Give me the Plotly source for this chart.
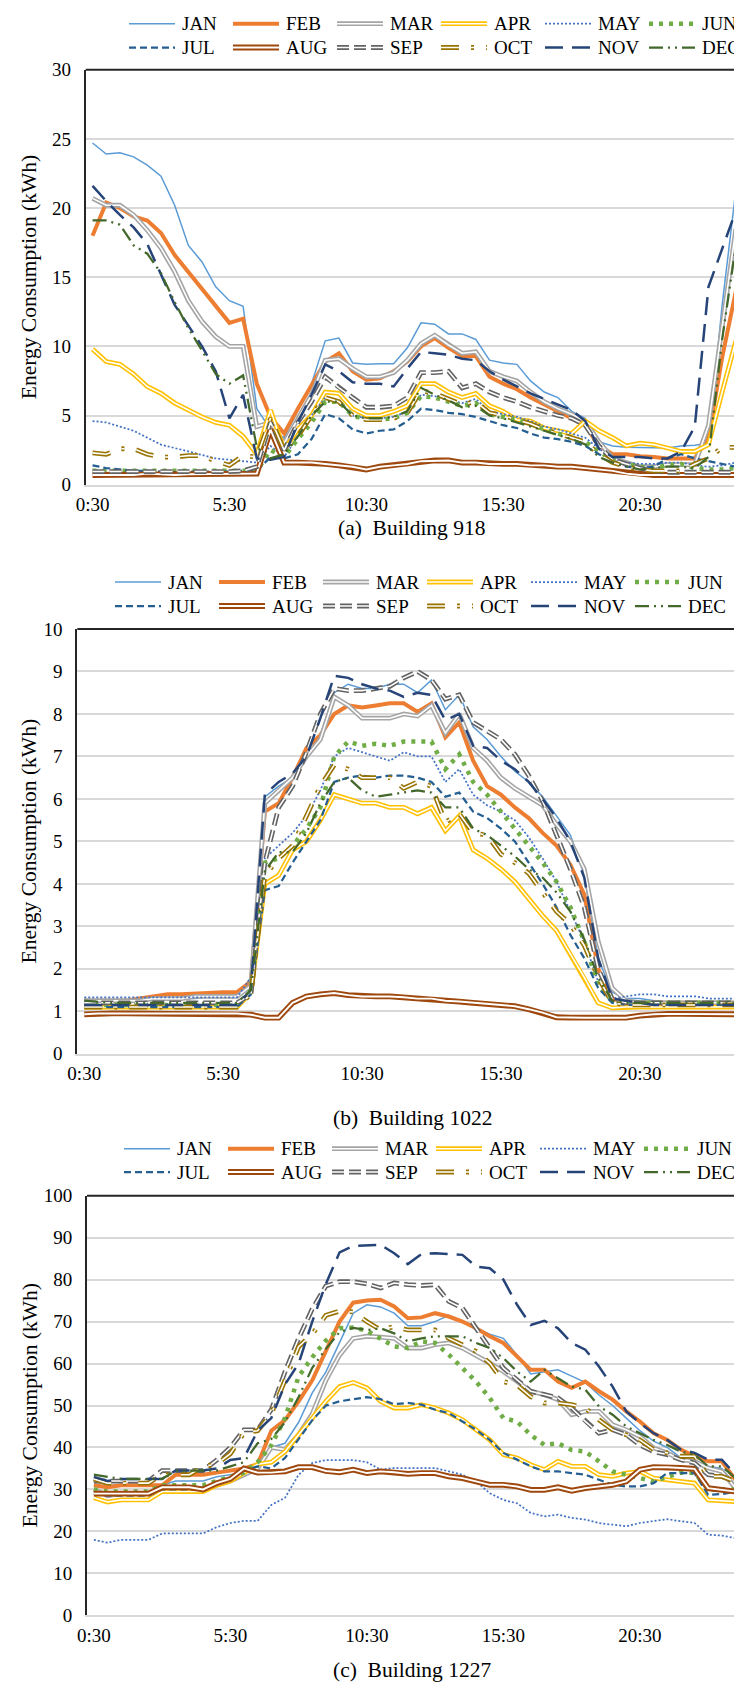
import plotly.graph_objects as go

# ---------------- categories / labels ----------------
TIMES = ["0:30", "1:00", "1:30", "2:00", "2:30", "3:00", "3:30", "4:00", "4:30", "5:00",
         "5:30", "6:00", "6:30", "7:00", "7:30", "8:00", "8:30", "9:00", "9:30", "10:00",
         "10:30", "11:00", "11:30", "12:00", "12:30", "13:00", "13:30", "14:00", "14:30", "15:00",
         "15:30", "16:00", "16:30", "17:00", "17:30", "18:00", "18:30", "19:00", "19:30", "20:00",
         "20:30", "21:00", "21:30", "22:00", "22:30", "23:00", "23:30", "24:00"]
TICK_LABELS = ["0:30", "5:30", "10:30", "15:30", "20:30"]
MONTHS = ["JAN", "FEB", "MAR", "APR", "MAY", "JUN", "JUL", "AUG", "SEP", "OCT", "NOV", "DEC"]
CAPTIONS = ["(a)  Building 918", "(b)  Building 1022", "(c)  Building 1227"]
Y_TITLE = "Energy Consumption (kWh)"

# ---------------- Building 918 ----------------
JAN_918 = [24.7,23.9,24.0,23.7,23.1,22.3,20.2,17.3,16.1,14.3,13.3,12.9,5.5,4.0,3.4,5.3,7.3,10.4,10.6,8.8,8.7,8.75,8.75,9.9,11.7,11.6,10.9,10.9,10.5,9.0,8.8,8.7,7.5,6.7,6.3,5.3,4.8,3.1,2.8,2.7,2.7,2.65,2.65,2.8,2.85,3.0,13.0,21.3]
FEB_918 = [18.0,20.4,20.0,19.4,19.1,18.2,16.6,15.4,14.2,13.0,11.7,12.0,7.3,4.9,3.7,5.5,7.2,8.9,9.5,8.2,7.6,7.7,8.2,8.9,10.0,10.6,9.9,9.3,9.3,7.8,7.3,6.9,6.3,5.8,5.3,4.8,4.3,2.8,2.2,2.2,2.05,2.0,1.9,1.9,1.9,3.4,9.2,14.0]
MAR_918 = [20.7,20.2,20.2,19.5,18.4,17.1,15.4,13.3,11.8,10.7,10.0,10.0,4.2,4.5,3.0,4.8,6.5,9.0,9.1,8.4,7.8,7.8,8.1,9.0,10.2,10.8,10.1,9.5,9.6,8.2,7.8,7.5,6.7,6.0,5.5,5.1,4.6,3.1,1.9,1.6,1.3,1.3,1.45,1.45,1.45,4.3,11.6,18.5]
APR_918 = [9.8,8.9,8.7,8.0,7.1,6.6,5.9,5.4,4.9,4.5,4.3,3.5,2.2,5.4,2.5,4.0,5.0,6.7,6.6,5.5,5.0,5.0,5.3,5.7,7.3,7.3,6.7,6.3,6.6,5.7,5.3,4.7,4.6,4.1,3.9,3.7,4.6,3.9,3.4,2.8,3.0,2.9,2.65,2.4,2.4,2.9,6.7,10.4]
MAY_918 = [4.6,4.5,4.2,3.9,3.4,2.9,2.65,2.4,2.2,1.9,1.8,1.7,1.6,2.8,2.0,3.5,5.0,6.3,6.1,5.0,4.8,4.8,4.9,5.3,6.5,6.4,6.1,5.9,6.2,5.3,5.1,4.9,4.6,4.2,4.0,3.7,3.4,2.6,1.9,1.6,1.5,1.5,1.6,1.6,1.4,1.3,1.4,1.6]
JUN_918 = [1.0,1.0,1.0,1.0,0.95,0.95,0.95,0.95,0.95,0.95,1.0,1.0,1.0,2.5,2.0,3.3,4.5,6.0,6.0,5.0,4.7,4.7,4.8,5.2,6.4,6.3,6.0,5.7,5.9,5.1,4.9,4.7,4.4,4.0,3.7,3.4,3.1,2.4,1.8,1.5,1.3,1.2,1.4,1.5,1.2,1.1,1.1,1.2]
JUL_918 = [1.4,1.2,1.1,1.0,1.0,0.95,0.9,0.95,0.95,0.9,0.95,1.0,1.0,2.0,1.9,2.2,3.3,5.1,4.8,4.0,3.7,3.9,4.0,4.6,5.5,5.4,5.2,5.1,4.9,4.6,4.3,4.1,3.7,3.4,3.3,3.1,2.8,2.2,1.7,1.3,1.2,1.3,1.9,2.2,1.9,1.7,1.5,1.3]
AUG_918 = [0.7,0.7,0.7,0.7,0.8,0.75,0.7,0.75,0.75,0.75,0.8,0.75,0.8,4.0,1.6,1.6,1.6,1.5,1.4,1.3,1.1,1.3,1.4,1.5,1.7,1.75,1.75,1.6,1.6,1.5,1.5,1.5,1.4,1.4,1.3,1.3,1.2,1.1,1.0,0.8,0.7,0.7,0.7,0.7,0.7,0.7,0.7,0.7]
SEP_918 = [0.95,0.95,0.9,0.9,0.9,0.9,0.9,0.95,0.95,0.95,0.95,1.0,1.3,4.5,2.5,4.5,6.0,7.8,7.0,6.3,5.6,5.6,5.7,6.3,8.1,8.1,8.2,7.0,7.3,6.7,6.3,6.0,5.6,5.3,5.0,4.8,4.3,2.8,1.8,1.5,1.2,1.0,0.9,0.9,0.9,0.9,0.9,0.9]
OCT_918 = [2.3,2.2,2.6,2.6,2.2,2.0,2.0,2.1,2.1,1.7,1.4,2.1,2.0,4.8,2.5,3.5,5.0,6.3,6.0,5.0,4.7,4.7,4.8,5.2,6.8,6.6,6.2,5.8,6.0,5.2,5.0,4.7,4.4,4.0,3.7,3.4,3.1,2.2,1.6,1.3,1.1,1.0,1.0,1.0,1.5,1.9,2.7,2.7]
NOV_918 = [21.6,20.5,19.5,18.6,17.4,15.2,13.0,11.5,10.0,8.2,4.8,6.5,1.9,1.8,2.0,4.5,6.5,8.7,8.2,7.4,7.3,7.3,7.1,8.4,9.6,9.5,9.4,9.1,9.0,8.2,7.6,7.1,6.6,6.2,5.8,5.4,4.6,2.6,2.0,2.0,2.0,1.9,1.9,2.4,4.2,14.3,17.0,19.8]
DEC_918 = [19.1,19.1,18.8,17.3,16.7,15.3,13.2,11.3,9.7,8.0,7.3,7.9,2.7,1.9,2.2,3.5,5.0,6.0,6.0,5.0,4.8,4.8,4.9,5.3,7.0,6.5,6.1,5.6,5.7,5.0,4.8,4.5,4.2,3.9,3.6,3.3,2.9,2.0,1.6,1.3,1.1,1.2,1.3,1.3,1.2,2.0,10.5,17.3]

# ---------------- Building 1022 ----------------
JAN_1022 = [1.25,1.25,1.25,1.25,1.25,1.3,1.3,1.3,1.3,1.35,1.35,1.35,1.8,6.05,6.3,6.5,7.0,7.5,8.5,8.7,8.6,8.6,8.7,8.7,8.5,8.8,8.1,8.45,7.7,7.4,7.0,6.65,6.4,6.05,5.6,5.15,4.2,2.25,1.45,1.3,1.3,1.25,1.2,1.2,1.2,1.2,1.2,1.2]
FEB_1022 = [1.25,1.25,1.25,1.25,1.3,1.35,1.4,1.4,1.42,1.43,1.45,1.45,1.7,5.7,5.9,6.5,7.2,7.5,8.0,8.2,8.15,8.2,8.25,8.25,8.05,8.25,7.45,7.8,6.9,6.3,6.1,5.8,5.55,5.2,4.9,4.45,3.75,2.0,1.3,1.2,1.2,1.2,1.2,1.2,1.2,1.2,1.2,1.2]
MAR_1022 = [1.25,1.25,1.25,1.25,1.25,1.3,1.3,1.3,1.35,1.35,1.35,1.35,1.6,5.9,6.2,6.5,7.0,7.4,8.4,8.2,7.9,7.9,7.9,8.0,7.95,8.2,7.55,8.0,7.2,6.9,6.5,6.25,6.05,5.85,5.4,5.0,4.35,2.65,1.55,1.25,1.2,1.2,1.2,1.2,1.2,1.2,1.2,1.2]
APR_1022 = [1.1,1.1,1.1,1.1,1.1,1.1,1.1,1.1,1.1,1.1,1.1,1.1,1.45,4.0,4.2,4.8,5.0,5.5,6.1,6.0,5.9,5.9,5.8,5.8,5.65,5.8,5.25,5.6,4.8,4.6,4.35,4.05,3.65,3.25,2.9,2.35,1.8,1.2,1.08,1.1,1.1,1.1,1.1,1.1,1.1,1.1,1.1,1.1]
MAY_1022 = [1.33,1.33,1.33,1.33,1.33,1.33,1.33,1.33,1.33,1.33,1.33,1.33,1.8,4.6,4.9,5.2,5.6,6.2,7.0,7.2,7.1,7.0,6.9,7.1,7.0,7.0,6.4,6.7,6.1,5.85,5.7,5.5,5.1,4.6,4.05,3.35,2.65,1.7,1.3,1.35,1.4,1.4,1.35,1.35,1.35,1.3,1.3,1.3]
JUN_1022 = [1.15,1.15,1.15,1.15,1.15,1.15,1.15,1.15,1.15,1.15,1.15,1.15,1.5,4.5,4.6,4.9,5.3,5.8,7.0,7.35,7.25,7.3,7.25,7.35,7.35,7.35,6.7,7.05,6.4,6.1,5.7,5.3,4.9,4.5,4.05,3.45,2.65,1.6,1.25,1.2,1.2,1.2,1.2,1.2,1.2,1.2,1.2,1.2]
JUL_1022 = [1.1,1.1,1.1,1.1,1.1,1.1,1.1,1.1,1.1,1.1,1.1,1.1,1.4,3.85,3.95,4.5,5.0,5.5,6.4,6.5,6.55,6.5,6.55,6.55,6.5,6.4,6.05,6.15,5.7,5.55,5.3,5.0,4.5,4.0,3.45,2.8,2.25,1.55,1.2,1.15,1.15,1.15,1.15,1.15,1.15,1.15,1.15,1.15]
AUG_1022 = [0.93,0.95,0.95,0.95,0.95,0.95,0.95,0.95,0.95,0.95,0.95,0.95,0.92,0.85,0.85,1.2,1.35,1.4,1.43,1.38,1.35,1.35,1.35,1.33,1.3,1.3,1.25,1.23,1.2,1.18,1.15,1.12,1.05,0.97,0.86,0.85,0.85,0.85,0.85,0.85,0.9,0.93,0.94,0.94,0.93,0.93,0.93,0.93]
SEP_1022 = [1.2,1.2,1.2,1.2,1.2,1.2,1.2,1.2,1.2,1.2,1.2,1.2,1.4,4.5,5.8,6.3,7.1,8.0,8.6,8.55,8.55,8.6,8.65,8.85,9.0,8.8,8.35,8.45,7.8,7.6,7.4,7.05,6.55,5.95,5.15,4.35,3.45,2.0,1.3,1.2,1.2,1.2,1.2,1.2,1.2,1.2,1.2,1.2]
OCT_1022 = [1.1,1.1,1.1,1.1,1.1,1.1,1.1,1.1,1.1,1.1,1.1,1.1,1.4,4.2,4.6,4.9,5.6,6.3,6.8,6.7,6.5,6.5,6.5,6.25,6.4,6.3,5.45,5.65,5.2,5.15,4.7,4.5,4.25,3.8,3.35,3.05,2.55,1.8,1.2,1.15,1.15,1.15,1.15,1.15,1.15,1.15,1.15,1.15]
NOV_1022 = [1.15,1.15,1.15,1.15,1.15,1.15,1.15,1.15,1.15,1.15,1.15,1.15,1.5,6.1,6.4,6.6,7.0,7.9,8.9,8.85,8.7,8.6,8.55,8.4,8.5,8.45,7.85,8.0,7.25,7.2,6.9,6.7,6.4,6.0,5.55,5.0,4.15,2.25,1.3,1.25,1.2,1.15,1.15,1.15,1.15,1.15,1.15,1.15]
DEC_1022 = [1.25,1.22,1.2,1.2,1.2,1.2,1.2,1.2,1.2,1.2,1.2,1.2,1.5,4.3,4.75,4.75,5.2,5.9,6.4,6.5,6.2,6.05,6.1,6.15,6.2,6.15,5.8,5.8,5.3,5.15,4.9,4.65,4.35,4.15,3.8,3.35,2.7,1.8,1.25,1.2,1.2,1.2,1.2,1.2,1.2,1.2,1.2,1.2]

# ---------------- Building 1227 ----------------
JAN_1227 = [32,31,31,31,31,31,32,32,32,33,33.5,34,36,40,41,46,53,58,65,72,74,73.5,72,69,69,70,71.5,70,68.5,67,66,62,57.5,58,58.5,57,55.5,52.5,50,47,44,41.5,40,37.5,36.5,35.5,35,31]
FEB_1227 = [31,30.5,31,31,31,31,33.5,33.5,33.5,34,34.5,35,36,44,46.5,51,56,63,70,74.5,75,75.2,73.6,70.8,71,72,71.2,70,68.4,66.5,64.9,61.7,58.5,58.5,55.7,54.2,55.7,53.4,51.4,48.6,46.2,43.4,41.8,39.5,37.9,36.7,36.7,32.3]
MAR_1227 = [30,28.5,29,29,29,29.5,30,30,30,31,32,33.5,35,40,39.5,43,48,56,62,66,66.5,66.3,66,63.7,63.7,64.5,64.9,63.7,62,60.1,58.1,55.7,53.4,52.6,51.4,47.8,48.6,48.6,45.4,44.2,42.6,39.9,38.7,37.1,36.7,35.1,34.3,30.3]
APR_1227 = [28,27,27.5,27.5,27.5,29.5,29.5,29.5,29.5,31,32,34,36,36.5,39,43,47,51,54.5,55.5,54.2,51,49.4,49.4,50.2,49.4,48.2,46.6,44.2,41.8,38.3,37.5,35.9,34.7,36.7,35.5,35.5,33.5,33.1,33.9,34.3,32.7,32.3,31.9,31.5,27.5,27.3,27.1]
MAY_1227 = [18,17.3,18,18,18,19.5,19.5,19.5,19.5,21,22,22.5,22.5,26.3,28,33.5,36.3,37,37,37,36.5,34.7,35.1,35.1,35.1,35.1,34.3,33.5,31.9,29.1,27.5,26.7,24.4,23.6,24,23.2,22.8,22,21.6,21.2,22,22.4,22.9,22.4,22,19.2,19,18.4]
JUN_1227 = [30,29.5,29.5,29.5,29.5,31,31,31,31,32,33,34,36.5,40.5,47,56.9,61.5,65.5,68.4,68.6,67.8,66,64.1,63.7,65.3,64.9,62.1,58.9,55.7,51.8,47,46.2,43,40.6,41,39.4,39,36.7,34.3,33.5,32.7,31.9,33,34,34,30,30,30]
JUL_1227 = [29,28.5,28.5,28.5,28.5,30,30,30,30,31.5,32.5,34.5,35.5,35,37.5,42,46.5,50,51,51.5,52,51.5,50.3,50.6,50.2,49,48.2,46.2,44.2,41.8,38.7,37.1,35.5,34.3,34.3,33.9,33.5,32.3,31.1,30.7,30.7,31.5,33.9,33.9,33.9,28.7,28.9,29.5]
AUG_1227 = [29,29,29,29,29,30.5,30.5,30.5,30,31.5,32.5,35,34,34,34.3,35.3,35.3,34.4,34.1,34.7,33.9,34.3,34.1,33.7,33.9,33.9,33.1,32.7,31.9,31.1,31.1,30.7,29.9,29.9,30.5,29.7,30.3,30.7,31.1,31.9,34.7,35.3,35.3,35.1,34.9,30.3,29.9,29.5]
SEP_1227 = [32,32,32,32,32,34.5,34.5,34.5,34.5,37,40,44.2,44.2,49,58,66,73,78.5,79.5,79.5,79,78,79.2,78.8,78.6,78.8,74.8,73.2,68.4,63.7,58.9,56.1,53.4,52.6,51.8,49.4,46.2,43.4,44.2,43,40.6,39,38.3,37.1,36.3,33.5,33.1,31.9]
OCT_1227 = [32.5,31.5,31.5,31.5,31.5,33.5,33.5,33.5,35.5,36,38.5,43.5,44,48,56,64,67,71.5,72.5,72.3,70,68,68.8,68,68,68,66,64.5,62.9,60.1,55.7,54.9,52.1,50.6,50.6,50.2,49.4,46.6,44.2,43,41.8,39.5,38.7,37.9,37.9,33.1,33.1,31.9]
NOV_1227 = [33,32,32.5,32.5,32.5,32.5,34.5,34.5,34.5,35,37,37.5,44,47,55,60,70,79,86.5,88,88.2,88.3,86.3,83.7,86.1,86.3,86.1,85.9,83.1,82.7,80,74,69.2,70.2,68.4,64.9,63.3,59.3,54.5,48.6,45.8,43.4,41.8,39.5,38.7,37.1,37.1,33.5]
DEC_1227 = [33.5,33,32.5,32.5,32.5,32.5,34.5,34.5,34.5,34.5,35.5,36.5,41,42,46,52,59,63.5,67.5,68.5,68,68.4,67.2,65.3,66,66.5,66.5,66.5,64.9,63.7,61.3,58.1,55.7,58.5,56.5,54.5,53.8,49.8,47.8,45,43.4,41.8,40.6,39,38.3,35.5,35.5,32.7]

SERIES_918 = [JAN_918, FEB_918, MAR_918, APR_918, MAY_918, JUN_918,
              JUL_918, AUG_918, SEP_918, OCT_918, NOV_918, DEC_918]
SERIES_1022 = [JAN_1022, FEB_1022, MAR_1022, APR_1022, MAY_1022, JUN_1022,
               JUL_1022, AUG_1022, SEP_1022, OCT_1022, NOV_1022, DEC_1022]
SERIES_1227 = [JAN_1227, FEB_1227, MAR_1227, APR_1227, MAY_1227, JUN_1227,
               JUL_1227, AUG_1227, SEP_1227, OCT_1227, NOV_1227, DEC_1227]

# ---------------- styles ----------------
STYLES = {
    "JAN": dict(color="#5B9BD5", width=1.5, dash="solid", inner=0),
    "FEB": dict(color="#ED7D31", width=4.0, dash="solid", inner=0),
    "MAR": dict(color="#A5A5A5", width=4.8, dash="solid", inner=1.6),
    "APR": dict(color="#FFC000", width=4.8, dash="solid", inner=1.6),
    "MAY": dict(color="#4472C4", width=1.75, dash="2px,2px", inner=0),
    "JUN": dict(color="#70AD47", width=4.5, dash="4px,6px", inner=0),
    "JUL": dict(color="#255E91", width=2.25, dash="7px,4px", inner=0),
    "AUG": dict(color="#9E480E", width=5.8, dash="solid", inner=1.9),
    "SEP": dict(color="#636363", width=4.8, dash="12px,5px", inner=1.6),
    "OCT": dict(color="#997300", width=4.8, dash="18px,12px,3px,12px", inner=1.6),
    "NOV": dict(color="#264478", width=2.5, dash="18px,9px", inner=0),
    "DEC": dict(color="#43682B", width=2.25, dash="14px,5px,2px,5px,2px,5px", inner=0),
}

W, H = 742, 1683
FONT = "Liberation Serif"
LEG_STEP, LEG_LINE, LEG_TEXT = 104, 46, 51


def px_x(v):
    return v / W


def px_y(v):
    return 1 - v / H


PANELS = [
    dict(series=SERIES_918, x0=77.7, x1=734.7, top=61.7, bot=476.7, ymax=30, dtick=5,
         leg_rows=(15.7, 39.5), leg_x=121, cap_y=520),
    dict(series=SERIES_1022, x0=69.3, x1=736.0, top=621.0, bot=1045.8, ymax=10, dtick=1,
         leg_rows=(574, 598), leg_x=107, cap_y=1110),
    dict(series=SERIES_1227, x0=79.0, x1=734.3, top=1187.7, bot=1607.3, ymax=100, dtick=10,
         leg_rows=(1140.7, 1164), leg_x=116, cap_y=1662),
]

fig = go.Figure()
layout = dict(
    width=W, height=H, margin=dict(l=0, r=0, t=0, b=0, autoexpand=False),
    paper_bgcolor="white", plot_bgcolor="white",
    font=dict(family=FONT, size=19, color="black"),
    showlegend=False,
)
annotations = []
shapes = []

for p, panel in enumerate(PANELS):
    sfx = "" if p == 0 else str(p + 1)
    xa, ya = "x" + sfx, "y" + sfx
    for m, month in enumerate(MONTHS):
        st = STYLES[month]
        fig.add_trace(go.Scatter(
            x=TIMES, y=panel["series"][m], mode="lines", name=month,
            line=dict(color=st["color"], width=st["width"], dash=st["dash"]),
            xaxis=xa, yaxis=ya, hoverinfo="skip"))
        if st["inner"]:
            fig.add_trace(go.Scatter(
                x=TIMES, y=panel["series"][m], mode="lines", name=month + " (core)",
                line=dict(color="white", width=st["inner"], dash=st["dash"]),
                xaxis=xa, yaxis=ya, hoverinfo="skip"))

        # legend entry (two rows of six, above each panel)
        lx = panel["leg_x"] + (m % 6) * LEG_STEP
        ly = px_y(panel["leg_rows"][m // 6])
        shapes.append(dict(type="line", xref="paper", yref="paper",
                           x0=px_x(lx), x1=px_x(lx + LEG_LINE), y0=ly, y1=ly,
                           line=dict(color=st["color"], width=st["width"], dash=st["dash"])))
        if st["inner"]:
            shapes.append(dict(type="line", xref="paper", yref="paper",
                               x0=px_x(lx), x1=px_x(lx + LEG_LINE), y0=ly, y1=ly,
                               line=dict(color="white", width=st["inner"], dash=st["dash"])))
        annotations.append(dict(
            text=month, xref="paper", yref="paper", x=px_x(lx + LEG_TEXT), y=ly,
            xanchor="left", yanchor="middle", showarrow=False,
            font=dict(family=FONT, size=19, color="black")))

    layout["xaxis" + sfx] = dict(
        domain=[px_x(panel["x0"]), px_x(panel["x1"])], anchor=ya, automargin=False,
        type="category", range=[-0.5, 47.5],
        tickmode="array", tickvals=TICK_LABELS, ticktext=TICK_LABELS,
        showgrid=False, zeroline=False, ticks="",
        showline=True, linecolor="#d9d9d9", linewidth=1.5,
        ticklabelstandoff=2, tickfont=dict(family=FONT, size=19, color="black"),
    )
    layout["yaxis" + sfx] = dict(
        domain=[px_y(panel["bot"]), px_y(panel["top"])], anchor=xa, automargin=False,
        range=[0, panel["ymax"]], dtick=panel["dtick"], tick0=0,
        showgrid=True, gridcolor="#d9d9d9", gridwidth=1.5, zeroline=False, ticks="",
        showline=True, linecolor="#262626", linewidth=2, mirror=True,
        ticklabelstandoff=9, tickfont=dict(family=FONT, size=19, color="black"),
    )
    shapes.append(dict(type="line", xref=xa + " domain", yref=ya + " domain",
                       x0=0, x1=1, y0=1, y1=1, line=dict(color="#262626", width=2)))
    annotations.append(dict(
        text=Y_TITLE, textangle=-90, xref="paper", yref="paper",
        x=px_x(21), y=px_y((panel["top"] + panel["bot"]) / 2),
        xanchor="center", yanchor="middle", showarrow=False,
        font=dict(family=FONT, size=21.5, color="black")))
    annotations.append(dict(
        text=CAPTIONS[p], xref="paper", yref="paper",
        x=px_x(404), y=px_y(panel["cap_y"]), xanchor="center", yanchor="middle",
        showarrow=False, font=dict(family=FONT, size=21.5, color="black")))

layout["annotations"] = annotations
layout["shapes"] = shapes
fig.update_layout(**layout)
fig.write_html("out.html")
